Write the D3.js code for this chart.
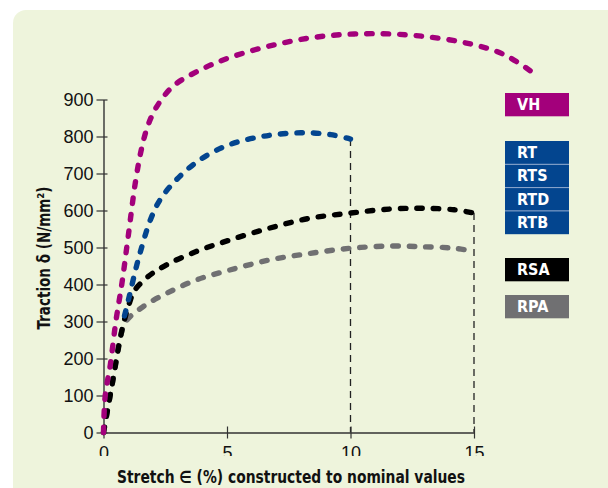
<!DOCTYPE html>
<html><head><meta charset="utf-8">
<script src="https://cdn.jsdelivr.net/npm/d3@7"></script>
<style>
html,body{margin:0;padding:0;background:#fff;}
svg{display:block;}
</style></head>
<body>
<svg id="chart" width="608" height="488"></svg>
<script>
// ---- data ----
const xTicks = [0, 5, 10, 15];
const yTicks = [0, 100, 200, 300, 400, 500, 600, 700, 800, 900];
const seriesNames = ["VH", "RT", "RSA", "RPA"];
const seriesColors = ["#a3007b", "#03458f", "#000000", "#707072"];
const vhX = [0, 0.07, 0.28, 0.5, 0.75, 1.0, 1.3, 1.55, 1.8, 2.15, 2.8, 3.8, 5.1, 7.0, 8.9, 10.9, 12.9, 14.8, 16.2, 17.4];
const vhY = [0, 100, 185, 300, 405, 530, 680, 770, 830, 880, 935, 976, 1013, 1049, 1071, 1078, 1071, 1051, 1022, 972];
const rtX = [0.85, 1.05, 1.3, 1.5, 1.9, 2.3, 2.95, 3.9, 5.1, 6.5, 8.0, 9.2, 10];
const rtY = [315, 370, 440, 490, 575, 630, 683, 737, 778, 801, 810, 805, 793];
const rsaX = [0, 0.35, 0.7, 0.85, 1.05, 1.25, 1.8, 2.55, 3.75, 5.1, 6.7, 8.35, 10, 11.6, 12.95, 14.2, 15];
const rsaY = [0, 130, 262, 305, 350, 383, 421, 453, 489, 520, 552, 579, 593, 604, 606, 602, 593];
const rpaX = [0, 0.35, 0.7, 0.9, 1.6, 2.55, 3.75, 5.1, 6.7, 8.35, 10, 11.6, 12.95, 14.2, 15];
const rpaY = [0, 130, 262, 300, 340, 376, 412, 439, 466, 484, 498, 504, 502, 498, 490];
const legendGroups = [["VH"], ["RT", "RTS", "RTD", "RTB"], ["RSA"], ["RPA"]];
const xTitle = "Stretch \u2208 (%) constructed to nominal values";
const yTitle = "Traction \u03b4 (N/mm\u00b2)";

// ---- drawing ----
const svg = d3.select("#chart");
const condensed = "'Liberation Sans Narrow','DejaVu Sans Condensed','Roboto Condensed',sans-serif";
const regular = "'Liberation Sans','Noto Sans',sans-serif";

// background panel
svg.append("rect").attr("x", 13).attr("y", 10).attr("width", 610).attr("height", 520)
  .attr("rx", 13).attr("fill", "#eef4dc");

const x = d3.scaleLinear().domain([0, 15]).range([103.5, 474]);
const y = d3.scaleLinear().domain([0, 900]).range([432.5, 99.5]);

// reference dashed verticals (from end of RT and RSA curves)
const refs = [[rtX[rtX.length-1], rtY[rtY.length-1]], [rsaX[rsaX.length-1], rsaY[rsaY.length-1]]];
svg.selectAll("line.ref").data(refs).join("line").attr("class", "ref")
  .attr("x1", d => x(d[0])).attr("x2", d => x(d[0]))
  .attr("y1", d => y(d[1])).attr("y2", y(0))
  .attr("stroke", "#222").attr("stroke-width", 1.3).attr("stroke-dasharray", "7,5");

// y axis
const yAxis = svg.append("g").attr("transform", `translate(${x(0)},0)`)
  .call(d3.axisLeft(y).tickValues(yTicks).tickSize(7).tickSizeOuter(0).tickPadding(3));
yAxis.selectAll(".tick line").attr("x1", 4).attr("stroke", "#333").attr("stroke-width", 1.2);
yAxis.select(".domain").attr("stroke", "#333").attr("stroke-width", 1.4);
yAxis.selectAll(".tick text").attr("font-family", regular).attr("font-size", 18).attr("fill", "#111");

// x axis (labels partly hidden as in the reference)
svg.append("clipPath").attr("id", "xclip")
  .append("rect").attr("x", 0).attr("y", 380).attr("width", 608).attr("height", 76);
const xWrap = svg.append("g").attr("clip-path", "url(#xclip)");
const xAxis = xWrap.append("g").attr("transform", `translate(0,${y(0)})`)
  .call(d3.axisBottom(x).tickValues(xTicks).tickSize(6).tickSizeOuter(0).tickPadding(8));
xAxis.selectAll(".tick line").attr("y1", -6).attr("stroke", "#333").attr("stroke-width", 1.2);
xAxis.select(".domain").attr("stroke", "#333").attr("stroke-width", 1.4);
xAxis.selectAll(".tick text").attr("font-family", regular).attr("font-size", 18).attr("fill", "#111");

// axis titles
svg.append("text").attr("x", 291).attr("y", 482.5).attr("text-anchor", "middle")
  .attr("font-family", condensed).attr("font-weight", "bold").attr("font-size", 17)
  .attr("textLength", 348).attr("lengthAdjust", "spacingAndGlyphs")
  .attr("fill", "#111").text(xTitle);
svg.append("text").attr("transform", "translate(50,258) rotate(-90)").attr("text-anchor", "middle")
  .attr("font-family", condensed).attr("font-weight", "bold").attr("font-size", 17)
  .attr("textLength", 143).attr("lengthAdjust", "spacingAndGlyphs")
  .attr("fill", "#111").text(yTitle);

// curves
const seriesData = [
  d3.zip(vhX, vhY), d3.zip(rtX, rtY), d3.zip(rsaX, rsaY), d3.zip(rpaX, rpaY)
];
const line = d3.line().x(d => x(d[0])).y(d => y(d[1])).curve(d3.curveCatmullRom.alpha(0.5));
const drawOrder = [3, 2, 1, 0];
drawOrder.forEach(i => {
  svg.append("path").datum(seriesData[i]).attr("d", line)
    .attr("fill", "none").attr("stroke", seriesColors[i]).attr("stroke-width", 5.4)
    .attr("stroke-linecap", "round").attr("stroke-dasharray", "5.5,11");
});

// legend
const legendTops = [93, 141, 258, 295];
const itemH = 23.3;
legendGroups.forEach((g, gi) => {
  const col = seriesColors[gi];
  g.forEach((lab, li) => {
    const top = legendTops[gi] + li * itemH;
    svg.append("rect").attr("x", 505).attr("y", top).attr("width", 64).attr("height", itemH)
      .attr("fill", col);
    if (li > 0) {
      svg.append("line").attr("x1", 505).attr("x2", 569).attr("y1", top).attr("y2", top)
        .attr("stroke", "#8fa8cf").attr("stroke-width", 1);
    }
    svg.append("text").attr("x", 517).attr("y", top + 17).attr("font-family", condensed)
      .attr("font-weight", "bold").attr("font-size", 16).attr("fill", "#fff").text(lab);
  });
});
</script>
</body></html>
